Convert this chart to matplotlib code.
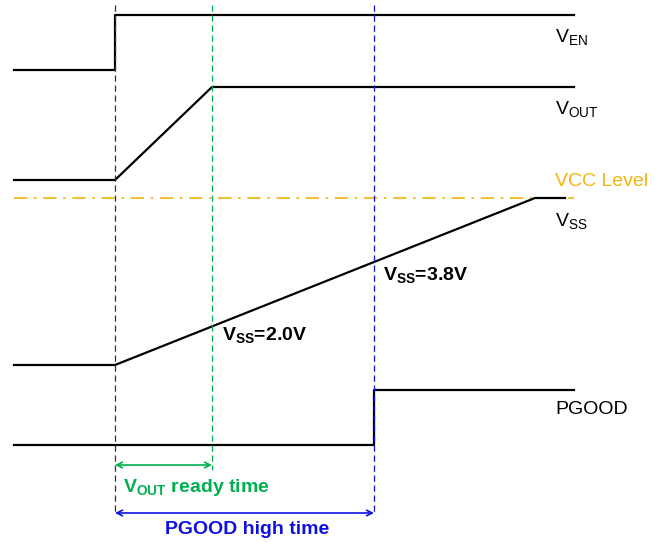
import numpy as np
import matplotlib.pyplot as plt

plt.rcParams['font.family'] = ['Liberation Sans', 'DejaVu Sans']
plt.rcParams['mathtext.fontset'] = 'custom'
plt.rcParams['mathtext.rm'] = 'Liberation Sans'
plt.rcParams['mathtext.bf'] = 'Liberation Sans:bold'

# waveform corner points (pixel space of the original drawing, y grows downward)
ven_x = [14, 115, 115, 574]
ven_y = [70, 70, 15, 15]
vout_x = [14, 115, 212, 574]
vout_y = [180, 180, 87, 87]
vss_x = [14, 115, 535, 565]
vss_y = [365, 365, 198, 198]
pgood_x = [14, 374, 374, 574]
pgood_y = [445, 445, 390, 390]
vcc_x = [14, 574]
vcc_y = [198, 198]

# timing markers
t_en = 115
t_ready = 212
t_pgood = 374

ORANGE = '#F5B40A'
GREEN = '#00B050'
BLUE = '#1010E0'

fig = plt.figure(figsize=(6.6, 5.42), dpi=100)
ax = fig.add_axes([0, 0, 1, 1])
ax.set_xlim(0, 660)
ax.set_ylim(542, 0)
ax.axis('off')

ax.plot(vcc_x, vcc_y, color=ORANGE, lw=1.2, linestyle=(0, (8, 4, 1.5, 4)))
for xs, ys in [(ven_x, ven_y), (vout_x, vout_y), (vss_x, vss_y), (pgood_x, pgood_y)]:
    ax.plot(xs, ys, color='black', lw=1.6)

ax.plot([t_en, t_en], [5, 515], color='#333333', lw=0.9, linestyle=(0, (5, 3)))
ax.plot([t_ready, t_ready], [5, 470], color=GREEN, lw=0.9, linestyle=(0, (5, 3)))
ax.plot([t_pgood, t_pgood], [5, 515], color=BLUE, lw=0.9, linestyle=(0, (5, 3)))

ax.annotate('', xy=(t_en, 465), xytext=(t_ready, 465),
            arrowprops=dict(arrowstyle='<->', color=GREEN, lw=1.2, shrinkA=0, shrinkB=0))
ax.annotate('', xy=(t_en, 513), xytext=(t_pgood, 513),
            arrowprops=dict(arrowstyle='<->', color=BLUE, lw=1.2, shrinkA=0, shrinkB=0))

fs = 14
ax.text(555, 38, r'V$_{\mathregular{EN}}$', fontsize=fs, va='center')
ax.text(555, 110, r'V$_{\mathregular{OUT}}$', fontsize=fs, va='center')
ax.text(555, 181, 'VCC Level', fontsize=fs, va='center', color=ORANGE)
ax.text(555, 222, r'V$_{\mathregular{SS}}$', fontsize=fs, va='center')
ax.text(555, 410, 'PGOOD', fontsize=fs, va='center')

bs = 14
ax.text(222, 336, r'V$_{\mathbf{SS}}$=2.0V', fontsize=bs, va='center', fontweight='bold')
ax.text(383, 276, r'V$_{\mathbf{SS}}$=3.8V', fontsize=bs, va='center', fontweight='bold')
ax.text(123, 487, r'V$_{\mathbf{OUT}}$ ready time', fontsize=bs, va='center',
        fontweight='bold', color=GREEN)
ax.text(247, 530, 'PGOOD high time', fontsize=bs, va='center', ha='center',
        fontweight='bold', color=BLUE)

fig.savefig('out.png', dpi=100)
